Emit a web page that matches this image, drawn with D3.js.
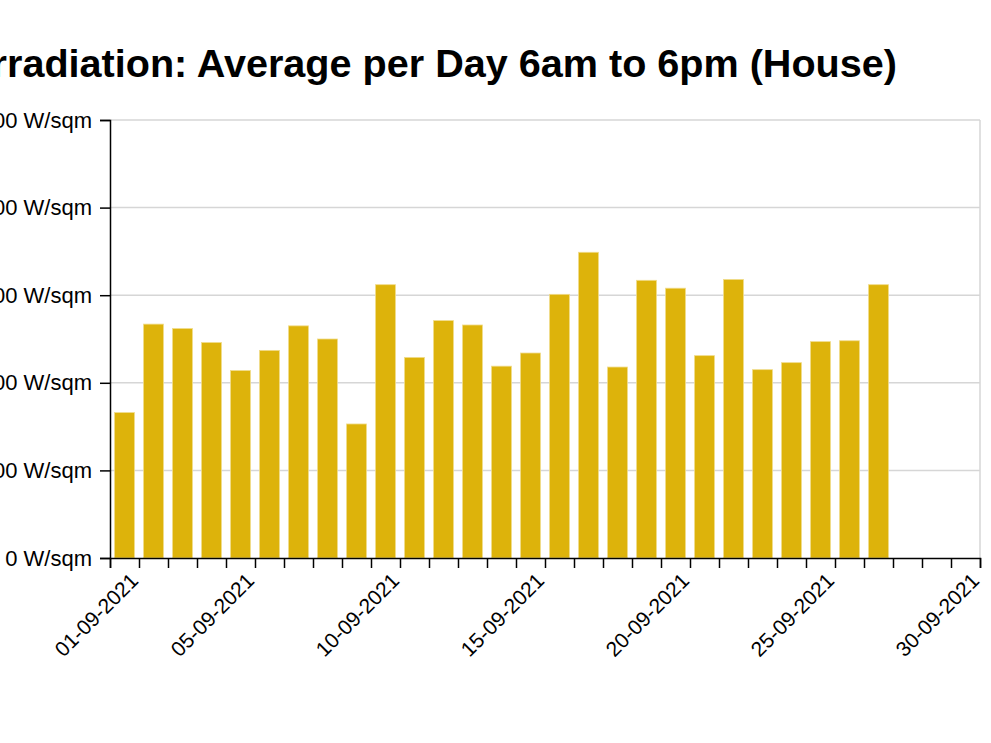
<!DOCTYPE html>
<html>
<head>
<meta charset="utf-8">
<title>Irradiation</title>
<script src="https://cdn.jsdelivr.net/npm/d3@7"></script>
<style>
    body { margin: 0; background: #fff; }
    svg { font-family: "Liberation Sans", Arial, Helvetica, sans-serif; }
    .grid line { stroke: #d6d6d6; stroke-width: 1.5; }
    .axis path, .axis line { stroke: #000; stroke-width: 1.5; }
</style>
</head>
<body>
<script>

//days of the bars (dd-mm-yyyy)
var days = ["31-08-2021", "01-09-2021", "02-09-2021", "03-09-2021", "04-09-2021",
    "05-09-2021", "06-09-2021", "07-09-2021", "08-09-2021", "09-09-2021",
    "10-09-2021", "11-09-2021", "12-09-2021", "13-09-2021", "14-09-2021",
    "15-09-2021", "16-09-2021", "17-09-2021", "18-09-2021", "19-09-2021",
    "20-09-2021", "21-09-2021", "22-09-2021", "23-09-2021", "24-09-2021",
    "25-09-2021", "26-09-2021"];

//average irradiation 6am to 6pm, W/sqm
var irradiation = [166, 267, 262, 246, 214, 237, 265, 250, 153, 312,
    229, 271, 266, 219, 234, 301, 349, 218, 317, 308,
    231, 318, 215, 223, 247, 248, 312];

//axis range and labels
var xStart = "31-08-2021",
    xEnd = "30-09-2021";
var xLabels = ["01-09-2021", "05-09-2021", "10-09-2021", "15-09-2021",
    "20-09-2021", "25-09-2021", "30-09-2021"];
var yTicks = [0, 100, 200, 300, 400, 500];

var title = "Irradiation: Average per Day 6am to 6pm (House)";

window.onload = drawChart();

function drawChart(){

    var width = 991,
        height = 743;
    var margin = {top: 120, right: 11, bottom: 185, left: 110};

    var parseDay = d3.timeParse("%d-%m-%Y"),
        formatDay = d3.timeFormat("%d-%m-%Y");

    var svg = d3.select("body")
        .append("svg")
        .attr("width", width)
        .attr("height", height);

    var x = d3.scaleTime()
        .domain([parseDay(xStart), parseDay(xEnd)])
        .range([margin.left, width - margin.right]);

    var y = d3.scaleLinear()
        .domain([0, 500])
        .range([height - margin.bottom, margin.top]);

    //horizontal grid lines
    svg.append("g")
        .attr("class", "grid")
        .selectAll("line")
        .data(yTicks.slice(1))
        .enter()
        .append("line")
        .attr("x1", x.range()[0])
        .attr("x2", x.range()[1])
        .attr("y1", function(d){ return y(d); })
        .attr("y2", function(d){ return y(d); });

    //right border
    svg.append("g")
        .attr("class", "grid")
        .append("line")
        .attr("x1", x.range()[1])
        .attr("x2", x.range()[1])
        .attr("y1", y.range()[0])
        .attr("y2", y.range()[1]);

    //bars, one per day
    var pad = 4.5;
    svg.append("g")
        .selectAll("rect")
        .data(days)
        .enter()
        .append("rect")
        .attr("x", function(d){ return x(parseDay(d)) + pad; })
        .attr("width", function(d){
            var t = parseDay(d);
            return x(d3.timeDay.offset(t, 1)) - x(t) - 2 * pad;
        })
        .attr("y", function(d, i){ return y(irradiation[i]); })
        .attr("height", function(d, i){ return y(0) - y(irradiation[i]); })
        .attr("fill", "#ddb30b")
        .attr("stroke", "#f1dc8c")
        .attr("stroke-width", 0.8);

    //x axis: a tick per day, label on some
    var labelSet = new Set(xLabels);
    var xAxis = d3.axisBottom(x)
        .ticks(d3.timeDay.every(1))
        .tickSize(10)
        .tickFormat(function(d){
            var s = formatDay(d);
            return labelSet.has(s) ? s : "";
        });

    var gx = svg.append("g")
        .attr("class", "axis")
        .attr("transform", "translate(0," + y(0) + ")")
        .call(xAxis);

    gx.selectAll("text")
        .attr("font-size", "21px")
        .attr("fill", "#000")
        .attr("text-anchor", "end")
        .attr("x", -17)
        .attr("y", 17)
        .attr("dy", 0)
        .attr("transform", "rotate(-45)");

    //y axis
    var yAxis = d3.axisLeft(y)
        .tickValues(yTicks)
        .tickSize(10)
        .tickPadding(8)
        .tickFormat(function(d){ return d + " W/sqm"; });

    var gy = svg.append("g")
        .attr("class", "axis")
        .attr("transform", "translate(" + x.range()[0] + ",0)")
        .call(yAxis);

    gy.selectAll("text")
        .attr("font-size", "22px")
        .attr("fill", "#000");

    //title
    svg.append("text")
        .attr("x", 897)
        .attr("y", 77)
        .attr("text-anchor", "end")
        .attr("font-size", "39.6px")
        .attr("font-weight", "bold")
        .text(title);
};

</script>
</body>
</html>
